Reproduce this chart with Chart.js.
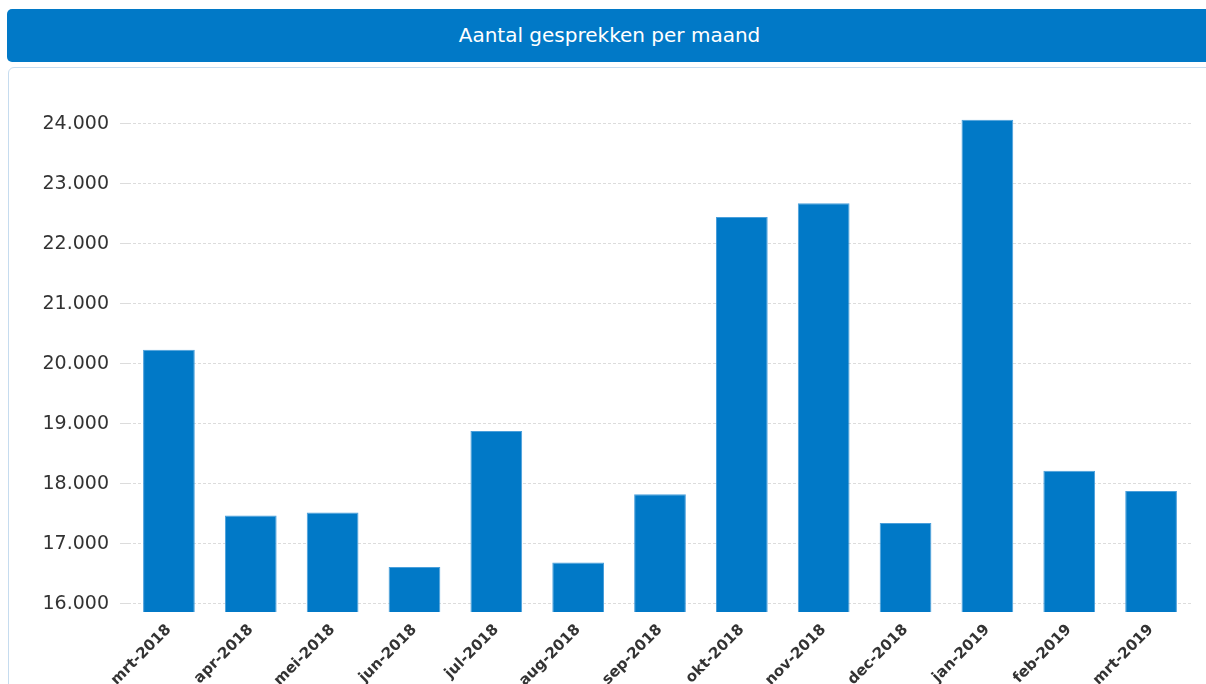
<!DOCTYPE html>
<html lang="nl">

<head>
  <meta charset="UTF-8" />
  <title>Aantal gesprekken per maand</title>
  <script src="https://cdn.jsdelivr.net/npm/chart.js"></script>
  <style>
    html, body { margin: 0; padding: 0; background: #fff; overflow: hidden; width: 1206px; height: 684px; }
    .header {
      position: absolute; left: 7px; top: 9px; width: 1205px; height: 53px;
      background: #0179c7; border-radius: 5px;
      color: #fff; font: 20px "DejaVu Sans", sans-serif; line-height: 52px; text-align: center;
    }
    .panel {
      position: absolute; left: 8px; top: 67px; width: 1210px; height: 640px;
      border: 1px solid #c6dcef; border-radius: 6px; box-sizing: border-box;
    }
    .chart-box { position: absolute; left: 10px; top: 68px; width: 1196px; height: 616px; }
  </style>
</head>

<body>
  <div class="header">Aantal gesprekken per maand</div>
  <div class="panel"></div>
  <div class="chart-box"><canvas id="chart"></canvas></div>

  <script>
    // maanden en aantallen
    const months = ['mrt-2018', 'apr-2018', 'mei-2018', 'jun-2018', 'jul-2018', 'aug-2018', 'sep-2018',
      'okt-2018', 'nov-2018', 'dec-2018', 'jan-2019', 'feb-2019', 'mrt-2019'];
    const calls = [20234, 17468, 17518, 16610, 18881, 16686, 17824, 22450, 22678, 17345, 24072, 18217, 17878];
    const yTicks = [16000, 17000, 18000, 19000, 20000, 21000, 22000, 23000, 24000];
    const yMin = 15860;
    const yMax = 24400;

    const fmt = v => String(Math.round(v)).replace(/\B(?=(\d{3})+(?!\d))/g, '.');

    new Chart(document.getElementById('chart'), {
      type: 'bar',
      data: {
        labels: months,
        datasets: [{
          label: 'Gesprekken',
          data: calls,
          backgroundColor: '#0179c7',
          borderColor: '#4a9fdb',
          borderWidth: 1,
          categoryPercentage: 0.8,
          barPercentage: 0.79
        }]
      },
      options: {
        responsive: true,
        maintainAspectRatio: false,
        animation: false,
        layout: { padding: { top: 32, right: 14, left: 0, bottom: 0 } },
        plugins: {
          legend: { display: false },
          tooltip: { enabled: false }
        },
        scales: {
          x: {
            afterFit: s => { s.height = 72; },
            grid: { display: false },
            border: { display: false },
            ticks: {
              color: '#333',
              font: { family: 'DejaVu Sans', size: 15, weight: 'bold' },
              minRotation: 45,
              maxRotation: 45,
              padding: 1,
              autoSkip: false
            }
          },
          y: {
            min: yMin,
            max: yMax,
            afterBuildTicks: s => { s.ticks = yTicks.map(v => ({ value: v })); },
            afterFit: s => { s.width = 118; },
            grid: { color: '#dcdcdc', tickLength: 8, tickColor: '#dcdcdc' },
            border: { display: false, dash: [3, 2] },
            ticks: {
              color: '#333',
              padding: 11,
              font: { family: 'DejaVu Sans', size: 19 },
              callback: v => fmt(v)
            }
          }
        }
      }
    });
  </script>
</body>

</html>
